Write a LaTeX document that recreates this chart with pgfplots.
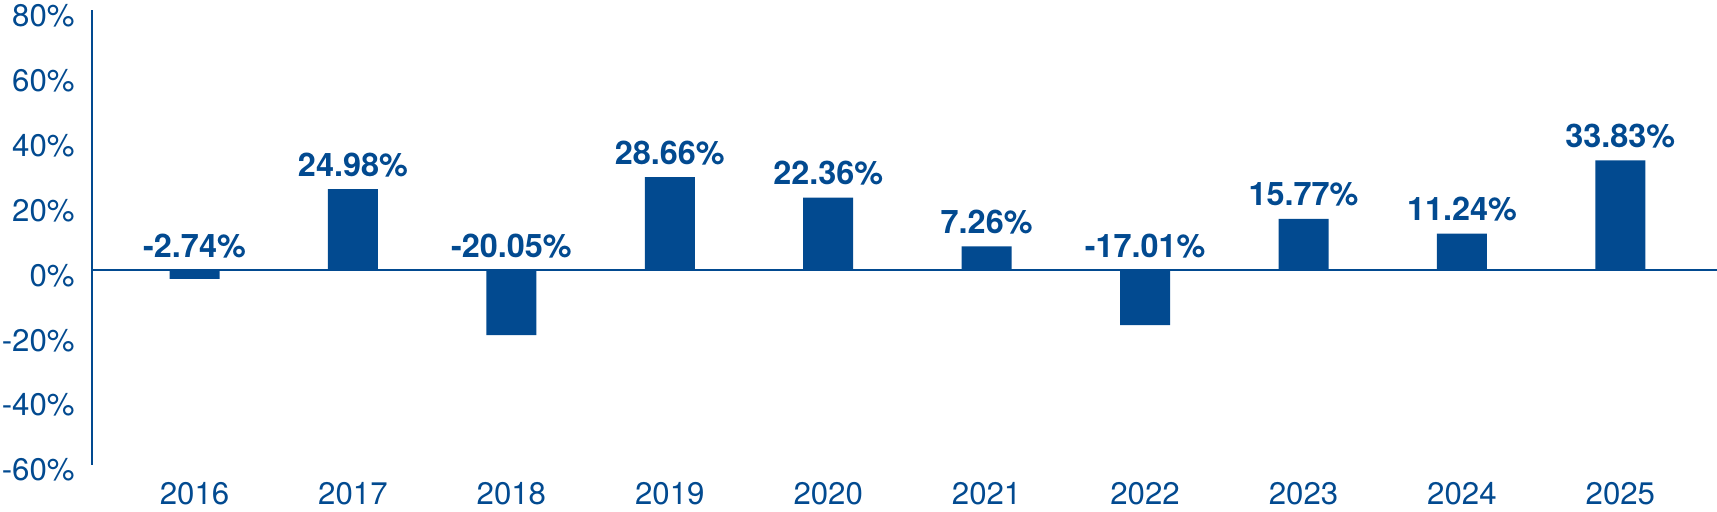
\documentclass[border=0pt]{standalone}
\usepackage{pgfplots}
\pgfplotsset{compat=1.18}
\usepackage{pgfplotstable}
\usepackage{fontspec}
\setmainfont{TeX Gyre Heros}
\definecolor{navy}{HTML}{024A90}
\pgfplotstableread{
x year v
0 2016 -2.74
1 2017 24.98
2 2018 -20.05
3 2019 28.66
4 2020 22.36
5 2021 7.26
6 2022 -17.01
7 2023 15.77
8 2024 11.24
9 2025 33.83
}\data
\begin{document}
\begin{tikzpicture}
\begin{axis}[
  name=ax,
  scale only axis, width=812.5pt, height=227.1pt,
  xmin=-0.647, xmax=9.61, ymin=-60, ymax=80,
  axis x line*=bottom, axis y line*=left,
  x axis line style={draw=none},
  y axis line style={draw=navy, line width=1.4pt},
  xtick={0,...,9},
  xticklabels={2016,2017,2018,2019,2020,2021,2022,2023,2024,2025},
  ytick={-60,-40,-20,0,20,40,60,80},
  yticklabels={-60\%,-40\%,-20\%,0\%,20\%,40\%,60\%,80\%},
  major tick length=0pt, tick style={draw=none},
  xticklabel style={font=\fontsize{15.6}{18}\selectfont, text=navy, inner sep=0pt, anchor=north, yshift=-8.5pt},
  yticklabel style={font=\fontsize{15.6}{18}\selectfont, text=navy, inner sep=0pt, anchor=east, xshift=-8.5pt, yshift=-2.7pt},
  extra y ticks={0}, extra y tick labels={},
  extra y tick style={grid=major, major grid style={draw=navy, line width=1.4pt}},
  clip=false,
]
\addplot[ybar, bar width=25pt, fill=navy, draw=none] table[x=x, y=v] {\data};
\addplot[draw=none, mark=none, nodes near coords={\pgfmathprintnumber[fixed, precision=2, fixed zerofill, assume math mode=true]{\pgfplotspointmeta}\%},
  point meta=explicit,
  every node near coord/.style={anchor=base, yshift=6.5pt, inner sep=0pt, text=navy, font=\fontsize{16.2}{19}\selectfont\bfseries}]
  table[x=x, y expr={max(\thisrow{v},0)}, meta=v] {\data};
\end{axis}
\pgfresetboundingbox
\path[use as bounding box] ([xshift=-46pt,yshift=-23.15pt]ax.south west) rectangle ([yshift=5.25pt]ax.north east);
\end{tikzpicture}
\end{document}
